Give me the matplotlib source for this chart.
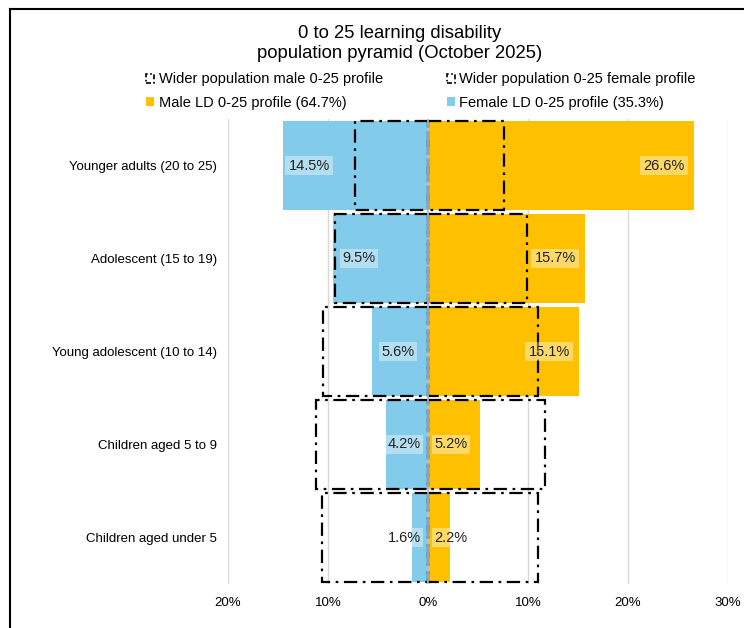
import matplotlib.pyplot as plt
from matplotlib.patches import Patch
from matplotlib.lines import Line2D

plt.rcParams['font.family'] = ['Liberation Sans', 'DejaVu Sans']

# data (percent of 0-25 population)
categories = ['Younger adults (20 to 25)', 'Adolescent (15 to 19)',
              'Young adolescent (10 to 14)', 'Children aged 5 to 9',
              'Children aged under 5']
female_ld = [14.5, 9.5, 5.6, 4.2, 1.6]
male_ld = [26.6, 15.7, 15.1, 5.2, 2.2]
female_wider = [7.3, 9.3, 10.5, 11.2, 10.6]
male_wider = [7.6, 9.9, 11.0, 11.7, 11.0]
xticks = [-20, -10, 0, 10, 20, 30]

blue = '#83CBEB'
gold = '#FFC000'

fig = plt.figure(figsize=(7.44, 6.28), dpi=100)
ax = fig.add_axes([228 / 744, 44 / 628, 500 / 744, 465 / 628])

y = list(range(len(categories)))
h = 0.96

ax.barh(y, [-v for v in female_ld], height=h, color=blue, zorder=2)
ax.barh(y, male_ld, height=h, color=gold, zorder=2)
ax.barh(y, [-v for v in female_wider], height=h, fill=False, edgecolor='black',
        linestyle=(0, (6, 2.5, 1.2, 2.5)), linewidth=1.6, zorder=3)
ax.barh(y, male_wider, height=h, fill=False, edgecolor='black',
        linestyle=(0, (6, 2.5, 1.2, 2.5)), linewidth=1.6, zorder=3)
ax.axvline(0, color='#BFBFBF', linewidth=1.2, zorder=3.5)

# data labels
for yi, v in zip(y, female_ld):
    xl = min(-v + 2.6, -2.4)
    ax.text(xl, yi, f'{v:.1f}%', ha='center', va='center', fontsize=10.5,
            color='#222222', zorder=4,
            bbox=dict(boxstyle='square,pad=0.2', facecolor='white', alpha=0.4, edgecolor='none'))
for yi, v in zip(y, male_ld):
    xl = max(v - 3.0, 2.3)
    ax.text(xl, yi, f'{v:.1f}%', ha='center', va='center', fontsize=10.5,
            color='#222222', zorder=4,
            bbox=dict(boxstyle='square,pad=0.2', facecolor='white', alpha=0.4, edgecolor='none'))

ax.set_xlim(-20, 30)
ax.set_ylim(len(categories) - 0.5, -0.5)
ax.set_xticks(xticks)
ax.set_xticklabels([f'{abs(t)}%' for t in xticks], fontsize=9.5)
ax.set_yticks(y)
ax.set_yticklabels(categories, fontsize=9.5)
ax.tick_params(axis='x', length=0, pad=9)
ax.tick_params(axis='y', length=0, pad=8)
ax.grid(axis='x', color='#D9D9D9', linewidth=1, zorder=0)
for s in ax.spines.values():
    s.set_visible(False)

fig.text(400 / 744, 1 - 33 / 628, '0 to 25 learning disability', ha='center', va='center', fontsize=13.3)
fig.text(400 / 744, 1 - 53 / 628, 'population pyramid (October 2025)', ha='center', va='center', fontsize=13.3)

ls = (0, (3, 1.5, 1, 1.5))
handles = [
    Patch(fill=False, edgecolor='black', linestyle=ls, linewidth=1.2, label='Wider population male 0-25 profile'),
    Patch(facecolor=gold, label='Male LD 0-25 profile (64.7%)'),
    Patch(fill=False, edgecolor='black', linestyle=ls, linewidth=1.2, label='Wider population 0-25 female profile'),
    Patch(facecolor=blue, label='Female LD 0-25 profile (35.3%)'),
]
fig.legend(handles=handles, ncol=2, loc='center', bbox_to_anchor=(421 / 744, 1 - 91 / 628),
           frameon=False, fontsize=10.5, handlelength=0.55, handleheight=0.55,
           handletextpad=0.3, columnspacing=4.4, labelspacing=0.62)

# chart border (partially cut off)
fig.add_artist(Line2D([10 / 744, 10 / 744], [0, 1 - 9 / 628], color='black', linewidth=1.5,
                      transform=fig.transFigure))
fig.add_artist(Line2D([10 / 744, 1], [1 - 9 / 628, 1 - 9 / 628], color='black', linewidth=1.5,
                      transform=fig.transFigure))

fig.savefig('out.png', dpi=100, facecolor='white')
